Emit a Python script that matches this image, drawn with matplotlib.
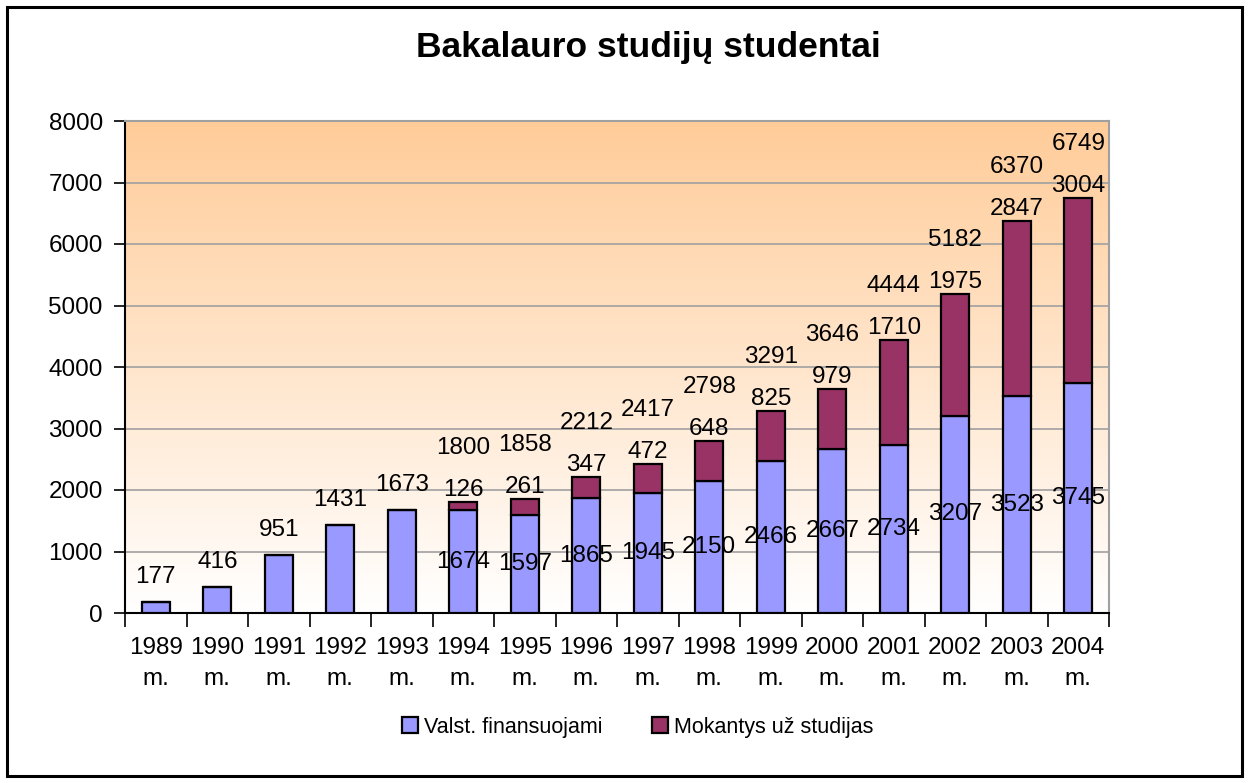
import matplotlib
matplotlib.use("Agg")
import matplotlib.pyplot as plt
import numpy as np
from matplotlib.colors import LinearSegmentedColormap
from matplotlib.patches import Rectangle

plt.rcParams['font.family'] = ['Liberation Sans', 'DejaVu Sans']

years = ["1989", "1990", "1991", "1992", "1993", "1994", "1995", "1996",
         "1997", "1998", "1999", "2000", "2001", "2002", "2003", "2004"]
state_funded = [177, 416, 951, 1431, 1673, 1674, 1597, 1865, 1945, 2150,
                2466, 2667, 2734, 3207, 3523, 3745]
paying = [0, 0, 0, 0, 0, 126, 261, 347, 472, 648, 825, 979, 1710, 1975,
          2847, 3004]
totals = [177, 416, 951, 1431, 1673, 1800, 1858, 2212, 2417, 2798, 3291,
          3646, 4444, 5182, 6370, 6749]
series_names = ["Valst. finansuojami", "Mokantys už studijas"]
title = "Bakalauro studijų studentai"

BLUE = "#9999FF"
PURPLE = "#993366"

W, H = 1249, 783
fig = plt.figure(figsize=(W / 100, H / 100), dpi=100)
ax = fig.add_axes([125 / W, 1 - 613 / H, (1109 - 125) / W, (613 - 121) / H])

# gradient background
cmap = LinearSegmentedColormap.from_list("bg", ["#FFFFFF", "#FFCC99"])
grad = np.linspace(0, 1, 256).reshape(-1, 1)
ax.imshow(grad, cmap=cmap, origin="lower", aspect="auto",
          extent=[0, 1, 0, 1], transform=ax.transAxes, zorder=0)

x = np.arange(len(years))
bw = 0.46
ax.bar(x, state_funded, width=bw, color=BLUE, edgecolor="black",
       linewidth=1.6, zorder=3, label=series_names[0])
ax.bar(x, paying, width=bw, bottom=state_funded, color=PURPLE,
       edgecolor="black", linewidth=1.6, zorder=3, label=series_names[1])

ax.set_xlim(-0.5, len(years) - 0.5)
ax.set_ylim(0, 8000)
ax.set_yticks(np.arange(0, 8001, 1000))
ax.yaxis.grid(True, color="#A0A0A0", linewidth=1.2, zorder=1)
ax.set_axisbelow(True)

fs = 17.5

# category ticks between bars, labels at centres
ax.set_xticks(np.arange(-0.5, len(years), 1.0))
ax.set_xticklabels([])
ax.set_xticks(x, minor=True)
ax.set_xticklabels([f"{y}\nm." for y in years], minor=True,
                   fontsize=fs, linespacing=1.55)
ax.tick_params(axis="x", which="major", length=10, width=1.2, direction="out")
ax.tick_params(axis="x", which="minor", length=0, pad=17)
ax.tick_params(axis="y", length=8, width=1.2, labelsize=fs, pad=8)

for s in ["left", "bottom"]:
    ax.spines[s].set_color("black")
    ax.spines[s].set_linewidth(1.5)
for s in ["top", "right"]:
    ax.spines[s].set_color("#A0A0A0")
    ax.spines[s].set_linewidth(1.5)

for i in range(len(years)):
    if paying[i] > 0:
        ax.text(x[i], state_funded[i] / 2, str(state_funded[i]), ha="center",
                va="center", fontsize=fs, zorder=5)
        ax.annotate(str(paying[i]), (x[i], totals[i]), xytext=(0, 1),
                    textcoords="offset pixels", ha="center", va="bottom",
                    fontsize=fs, zorder=5)
        ax.annotate(str(totals[i]), (x[i], totals[i]), xytext=(0, 54),
                    textcoords="offset pixels", ha="center", va="center",
                    fontsize=fs, zorder=5)
    else:
        ax.annotate(str(totals[i]), (x[i], totals[i]), xytext=(0, 25),
                    textcoords="offset pixels", ha="center", va="center",
                    fontsize=fs, zorder=5)

fig.text(648 / W, 1 - 47 / H, title, ha="center", va="center",
         fontsize=25.5, fontweight="bold")

fig.legend(loc="center", bbox_to_anchor=(638 / W, 1 - 727 / H), ncol=2,
           frameon=False, fontsize=15.5, handlelength=0.72, handleheight=0.72,
           handletextpad=0.3, columnspacing=2.3)

fig.patches.append(Rectangle((7 / W, 7 / H), (W - 14) / W, (H - 14) / H,
                             transform=fig.transFigure, fill=False,
                             edgecolor="black", linewidth=2.2))

fig.savefig("out.png", dpi=100)
